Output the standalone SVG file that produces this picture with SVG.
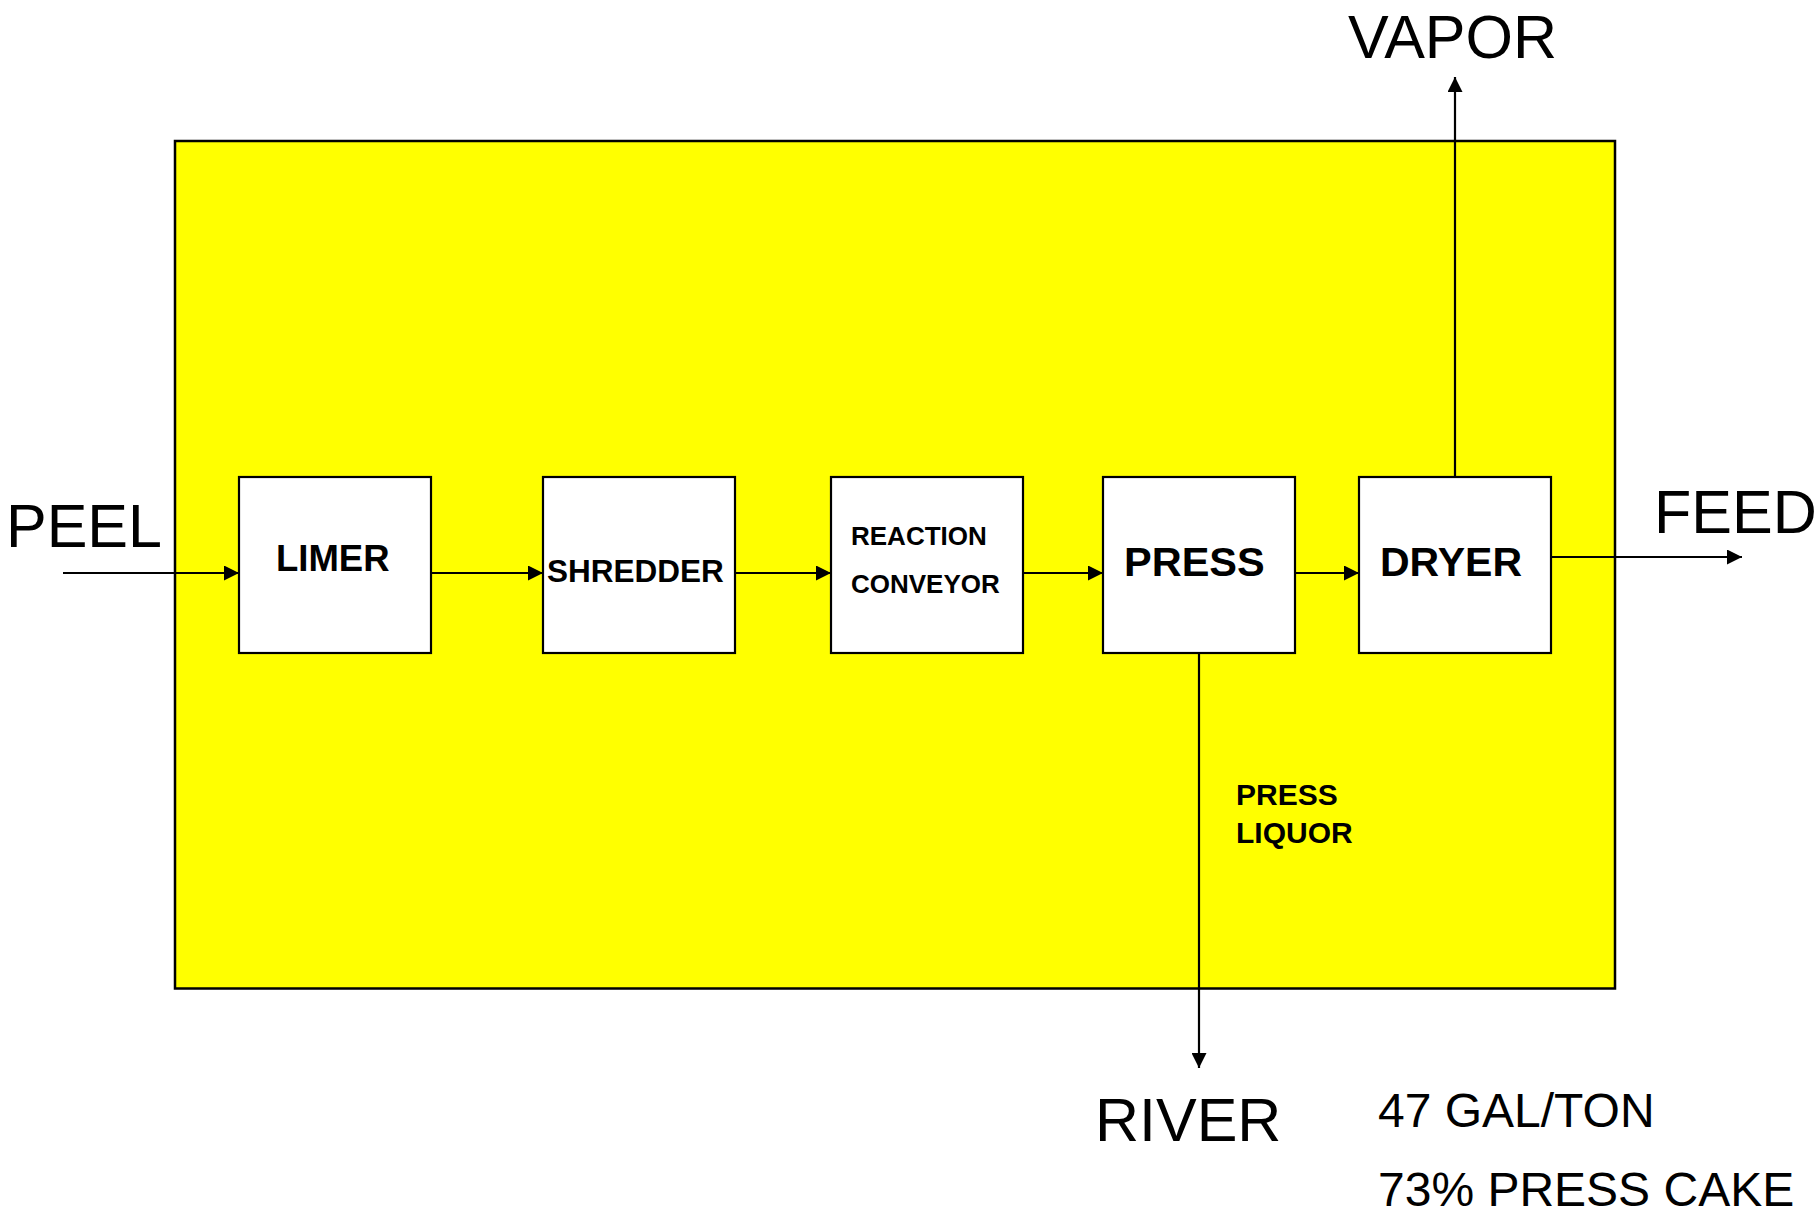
<svg xmlns="http://www.w3.org/2000/svg" width="1818" height="1215" viewBox="0 0 1818 1215">
<style>
.box{fill:#FFFFFF;stroke:#000;stroke-width:2.2}
.lbl{font-family:"Liberation Sans",Arial,sans-serif;font-weight:bold;fill:#000}
.big{font-family:"Liberation Sans",Arial,sans-serif;font-size:61px;fill:#000}
.note{font-family:"Liberation Sans",Arial,sans-serif;font-size:48px;fill:#000}
.conn{stroke:#000;stroke-width:2.2;fill:none;marker-end:url(#arr)}
</style>
<defs>
<marker id="arr" markerUnits="userSpaceOnUse" markerWidth="15" markerHeight="15" refX="15" refY="7.5" orient="auto">
<path d="M0,0 L15,7.5 L0,15 Z" fill="#000"/>
</marker>
</defs>
<rect width="1818" height="1215" fill="#FFFFFF"/>
<g id="plant">
<rect x="175" y="141" width="1440" height="847.5" fill="#FFFF00" stroke="#000" stroke-width="2.5"/>
</g>
<g id="connectors">
<line class="conn" x1="63" y1="573" x2="239" y2="573"/>
<line class="conn" x1="431" y1="573" x2="543" y2="573"/>
<line class="conn" x1="735" y1="573" x2="831" y2="573"/>
<line class="conn" x1="1023" y1="573" x2="1103" y2="573"/>
<line class="conn" x1="1295" y1="573" x2="1359" y2="573"/>
<line class="conn" x1="1551" y1="557" x2="1742" y2="557"/>
<line class="conn" x1="1455" y1="477" x2="1455" y2="77"/>
<line class="conn" x1="1199" y1="653" x2="1199" y2="1068"/>
</g>
<g id="limer">
<rect class="box" x="239" y="477" width="192" height="176"/>
<text class="lbl" x="276" y="571" font-size="36.5">LIMER</text>
</g>
<g id="shredder">
<rect class="box" x="543" y="477" width="192" height="176"/>
<text class="lbl" x="547" y="582" font-size="31.5">SHREDDER</text>
</g>
<g id="reaction-conveyor">
<rect class="box" x="831" y="477" width="192" height="176"/>
<text class="lbl" x="851" y="545" font-size="26">REACTION</text>
<text class="lbl" x="851" y="593" font-size="26">CONVEYOR</text>
</g>
<g id="press">
<rect class="box" x="1103" y="477" width="192" height="176"/>
<text class="lbl" x="1124" y="576" font-size="41.5">PRESS</text>
</g>
<g id="dryer">
<rect class="box" x="1359" y="477" width="192" height="176"/>
<text class="lbl" x="1380" y="576" font-size="41">DRYER</text>
</g>
<g id="labels">
<text class="big" x="6" y="547">PEEL</text>
<text class="big" x="1654" y="533">FEED</text>
<text class="big" x="1348" y="58">VAPOR</text>
<text class="big" x="1095" y="1141">RIVER</text>
<text class="lbl" x="1236" y="805" font-size="30">PRESS</text>
<text class="lbl" x="1236" y="843" font-size="30">LIQUOR</text>
<text class="note" x="1378" y="1127">47 GAL/TON</text>
<text class="note" x="1378" y="1206">73% PRESS CAKE</text>
</g>
</svg>
